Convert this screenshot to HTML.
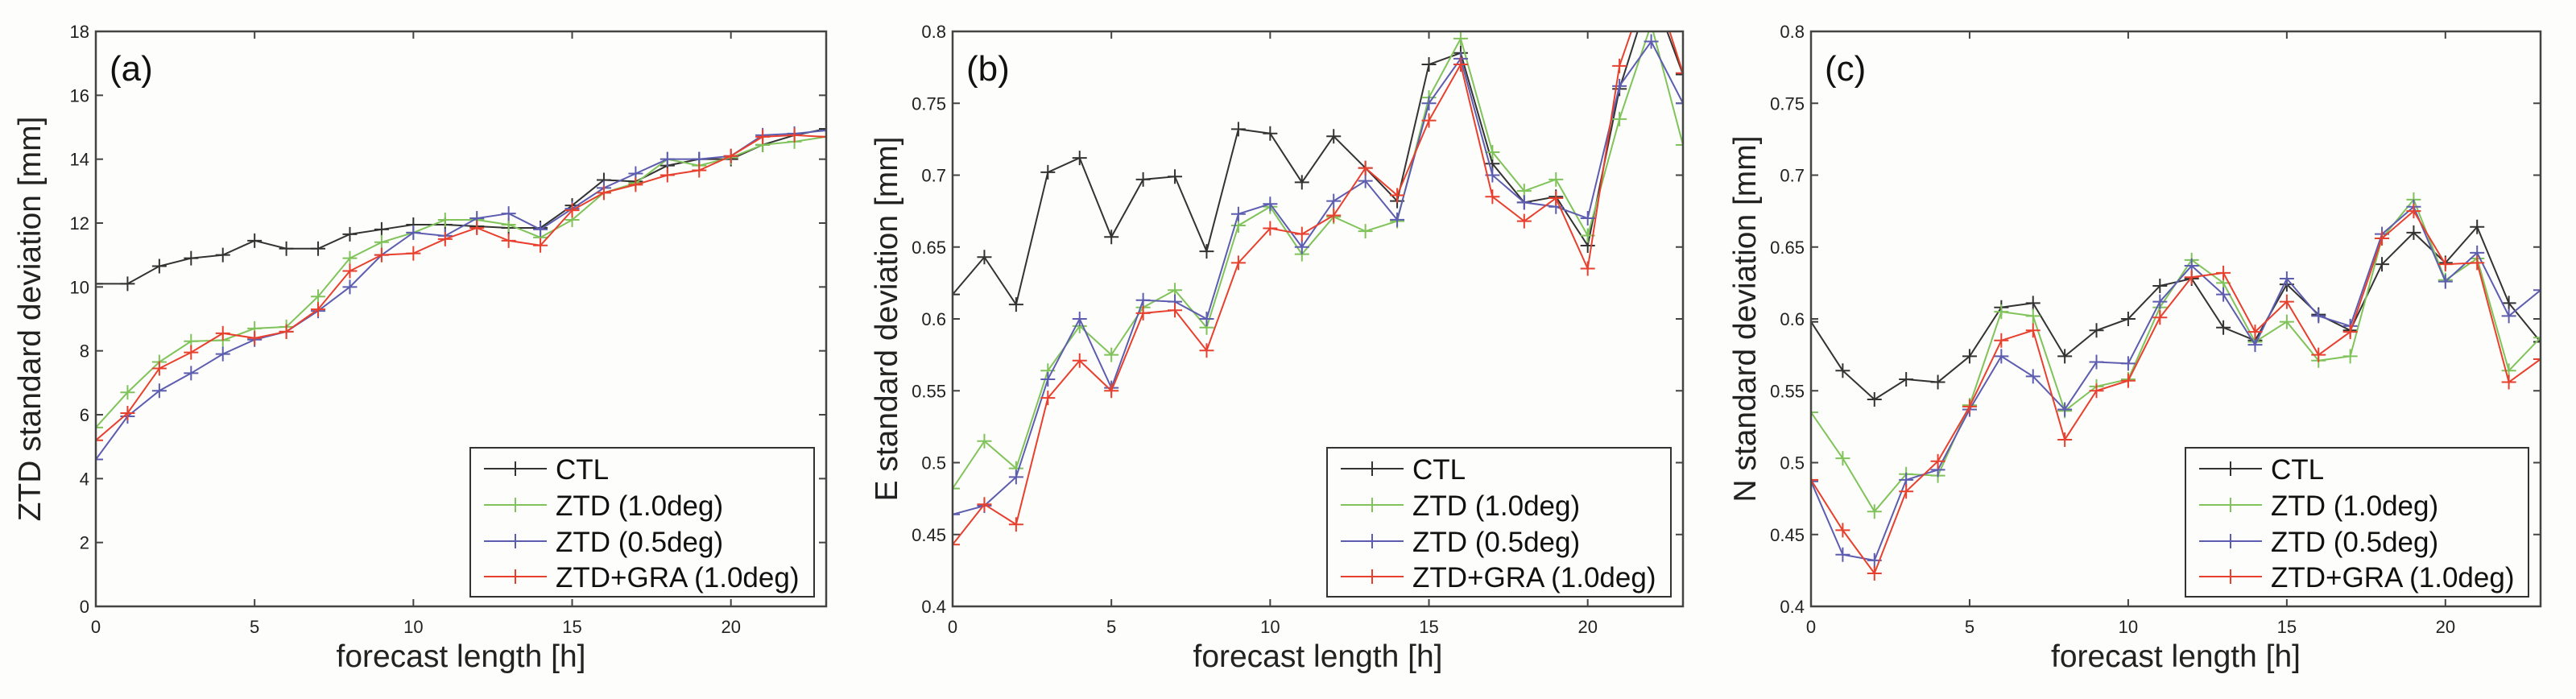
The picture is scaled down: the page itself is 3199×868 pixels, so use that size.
<!DOCTYPE html>
<html><head><meta charset="utf-8"><style>
html,body{margin:0;padding:0;background:#fdfdfb;}
svg{display:block;font-family:"Liberation Sans",sans-serif;}
</style></head><body>
<svg id="fig" width="3199" height="868" viewBox="0 0 3199 868" xmlns="http://www.w3.org/2000/svg">
<rect width="3199" height="868" fill="#fdfdfb"/>
</svg>
<script>
const hours = [0,1,2,3,4,5,6,7,8,9,10,11,12,13,14,15,16,17,18,19,20,21,22,23];
const seriesNames = ["CTL","ZTD (1.0deg)","ZTD (0.5deg)","ZTD+GRA (1.0deg)"];
const xTicks = [0,5,10,15,20];
const ztdCTL = [10.1,10.1,10.65,10.9,11.0,11.45,11.2,11.2,11.65,11.8,11.95,11.95,11.9,11.85,11.85,12.55,13.35,13.3,13.8,14.0,14.0,14.45,14.75,14.95];
const ztdG10 = [5.6,6.7,7.65,8.3,8.33,8.7,8.75,9.7,10.9,11.4,11.7,12.1,12.1,11.95,11.55,12.1,12.95,13.25,14.0,13.8,14.05,14.45,14.55,14.7];
const ztdG05 = [4.6,5.95,6.75,7.3,7.9,8.35,8.6,9.25,10.0,11.0,11.7,11.6,12.15,12.3,11.8,12.45,13.1,13.55,14.0,14.0,14.1,14.75,14.8,14.9];
const ztdGRA = [5.2,6.05,7.45,7.95,8.55,8.4,8.6,9.3,10.5,11.0,11.05,11.5,11.85,11.45,11.3,12.4,12.95,13.2,13.5,13.65,14.1,14.7,14.75,14.7];
const eCTL = [0.617,0.643,0.61,0.702,0.712,0.657,0.697,0.699,0.647,0.732,0.729,0.695,0.727,0.705,0.682,0.777,0.785,0.708,0.681,0.685,0.651,0.76,0.83,0.77];
const eG10 = [0.482,0.515,0.496,0.564,0.595,0.575,0.608,0.62,0.594,0.665,0.678,0.645,0.671,0.661,0.668,0.754,0.795,0.716,0.689,0.697,0.658,0.739,0.805,0.721];
const eG05 = [0.464,0.47,0.49,0.558,0.6,0.552,0.613,0.612,0.6,0.673,0.68,0.65,0.682,0.696,0.669,0.75,0.781,0.7,0.681,0.678,0.67,0.762,0.793,0.75];
const eGRA = [0.443,0.471,0.457,0.545,0.571,0.55,0.604,0.606,0.578,0.639,0.663,0.659,0.672,0.705,0.686,0.738,0.777,0.685,0.668,0.684,0.635,0.776,0.84,0.771];
const nCTL = [0.598,0.564,0.544,0.558,0.556,0.574,0.608,0.611,0.574,0.592,0.6,0.623,0.628,0.594,0.585,0.624,0.603,0.592,0.638,0.66,0.639,0.664,0.611,0.584];
const nG10 = [0.535,0.503,0.466,0.492,0.491,0.54,0.605,0.602,0.536,0.553,0.558,0.608,0.641,0.625,0.584,0.598,0.571,0.574,0.656,0.683,0.627,0.642,0.564,0.587];
const nG05 = [0.487,0.436,0.432,0.488,0.495,0.537,0.574,0.56,0.537,0.57,0.569,0.612,0.637,0.617,0.582,0.628,0.602,0.595,0.659,0.678,0.626,0.646,0.602,0.62];
const nGRA = [0.488,0.453,0.423,0.48,0.501,0.539,0.585,0.592,0.516,0.55,0.557,0.601,0.629,0.632,0.591,0.612,0.575,0.591,0.656,0.675,0.638,0.639,0.556,0.572];
const ztdTicks = [0,2,4,6,8,10,12,14,16,18];
const enTicks = [0.4,0.45,0.5,0.55,0.6,0.65,0.7,0.75,0.8];
const enTickLabels = ["0.4","0.45","0.5","0.55","0.6","0.65","0.7","0.75","0.8"];

const colors = ["#333333","#80c35a","#5d5db0","#e8402e"];
const NS = "http://www.w3.org/2000/svg";
const svg = document.getElementById('fig');
function mk(tag, attrs, parent){const e=document.createElementNS(NS,tag);for(const k in attrs)e.setAttribute(k,attrs[k]);(parent||svg).appendChild(e);return e;}

function panel(id, L, R, T, B, yMin, yMax, yTicks, yLabels, ylabel, letter, data, legX){
  const g = mk('g',{});
  
  
  const xs = v => L + (v-0)/(23-0)*(R-L);
  const ys = v => B - (v-yMin)/(yMax-yMin)*(B-T);
  const cp = mk('clipPath',{id:'clip'+id},g);
  mk('rect',{x:L,y:T,width:R-L,height:B-T},cp);
  // ticks
  xTicks.forEach(t=>{
    const x=xs(t);
    mk('line',{x1:x,y1:B,x2:x,y2:B-9,stroke:'#444','stroke-width':2},g);
    mk('line',{x1:x,y1:T,x2:x,y2:T+9,stroke:'#444','stroke-width':2},g);
    const tx=mk('text',{x:x,y:B+33,'font-size':22,'text-anchor':'middle',fill:'#222'},g);
    tx.textContent=t;
    
    
  });
  yTicks.forEach((t,i)=>{
    const y=ys(t);
    mk('line',{x1:L,y1:y,x2:L+9,y2:y,stroke:'#444','stroke-width':2},g);
    mk('line',{x1:R,y1:y,x2:R-9,y2:y,stroke:'#444','stroke-width':2},g);
    const tx=mk('text',{x:L-8,y:y+8,'font-size':22,'text-anchor':'end',fill:'#222'},g);
    tx.textContent=yLabels[i];
    
    
  });
  // series
  const sg = mk('g',{'clip-path':'url(#clip'+id+')'},g);
  data.forEach((arr,si)=>{
    const pts = arr.map((v,i)=>xs(hours[i])+','+ys(v)).join(' ');
    const pl=mk('polyline',{points:pts,fill:'none',stroke:colors[si],'stroke-width':2},sg);
    
    
    arr.forEach((v,i)=>{
      const x=xs(hours[i]), y=ys(v);
      const m=mk('path',{d:`M${x-9},${y}H${x+9}M${x},${y-9}V${y+9}`,stroke:colors[si],'stroke-width':2},sg);
      
      
    });
  });
  // frame
  const fr=mk('rect',{x:L,y:T,width:R-L,height:B-T,fill:'none',stroke:'#444','stroke-width':2.5},g);
  
  
  // labels
  const xl=mk('text',{x:(L+R)/2,y:828,'font-size':39,'text-anchor':'middle',fill:'#222'},g);
  xl.textContent='forecast length [h]';
  
  
  const yl=mk('text',{x:0,y:0,'font-size':39,'text-anchor':'middle',fill:'#222',transform:`translate(${L-69},${(T+B)/2}) rotate(-90)`},g);
  yl.textContent=ylabel;
  
  
  const pl=mk('text',{x:L+17,y:100,'font-size':44,fill:'#111'},g);
  pl.textContent=letter;
  
  
  // legend
  const lg=mk('g',{},g);
  
  
  const lw=R-15-legX;
  mk('rect',{x:legX,y:556,width:lw,height:185,fill:'#fdfdfb',stroke:'#333','stroke-width':2},lg);
  const rows=[582,627,672,716];
  seriesNames.forEach((n,i)=>{
    const le=mk('g',{},lg);
    
    
    mk('line',{x1:legX+17,y1:rows[i],x2:legX+95,y2:rows[i],stroke:colors[i],'stroke-width':2},le);
    mk('path',{d:`M${legX+47},${rows[i]}h18M${legX+56},${rows[i]-9}v18`,stroke:colors[i],'stroke-width':2},le);
    const t=mk('text',{x:legX+106,y:rows[i]+13,'font-size':35,fill:'#111'},le);
    t.textContent=n;
  });
}
panel('a',119,1026,39,753,0,18,ztdTicks,ztdTicks.map(String),'ZTD standard deviation [mm]','(a)',[ztdCTL,ztdG10,ztdG05,ztdGRA],584);
panel('b',1183,2090,39,753,0.4,0.8,enTicks,enTickLabels,'E standard deviation [mm]','(b)',[eCTL,eG10,eG05,eGRA],1648);
panel('c',2249,3155,39,753,0.4,0.8,enTicks,enTickLabels,'N standard deviation [mm]','(c)',[nCTL,nG10,nG05,nGRA],2714);
</script>
</body></html>
